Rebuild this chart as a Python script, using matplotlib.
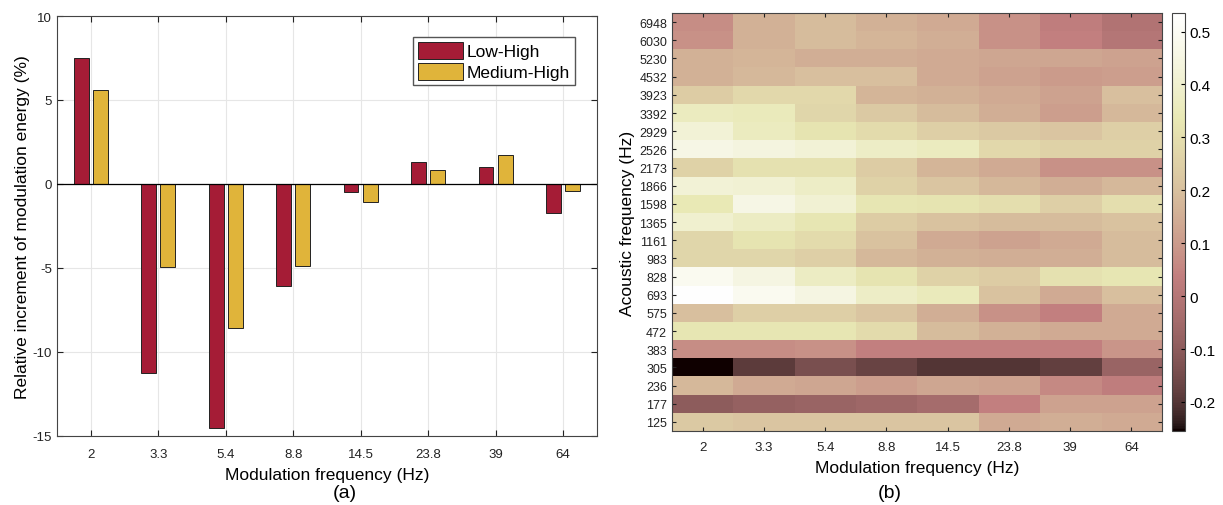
import numpy as np
import matplotlib
matplotlib.use("Agg")
import matplotlib.pyplot as plt
from matplotlib.colors import ListedColormap

plt.rcParams['font.family'] = ['Liberation Sans', 'DejaVu Sans']
plt.rcParams['axes.unicode_minus'] = False

mod_freqs = ['2', '3.3', '5.4', '8.8', '14.5', '23.8', '39', '64']
low_high = [7.5, -11.25, -14.55, -6.05, -0.45, 1.3, 1.0, -1.7]
medium_high = [5.6, -4.95, -8.6, -4.9, -1.05, 0.85, 1.75, -0.4]

acoustic_freqs = ['6948', '6030', '5230', '4532', '3923', '3392', '2929', '2526',
                  '2173', '1866', '1598', '1365', '1161', '983', '828', '693',
                  '575', '472', '383', '305', '236', '177', '125']

# rows top (6948) -> bottom (125), columns follow mod_freqs
heat = np.array([
    [0.07, 0.16, 0.19, 0.16, 0.14, 0.08, 0.03, -0.01],
    [0.08, 0.16, 0.19, 0.17, 0.15, 0.08, 0.04, 0.00],
    [0.16, 0.17, 0.15, 0.15, 0.14, 0.13, 0.13, 0.12],
    [0.16, 0.18, 0.20, 0.20, 0.14, 0.12, 0.10, 0.11],
    [0.24, 0.28, 0.28, 0.17, 0.16, 0.14, 0.12, 0.20],
    [0.36, 0.35, 0.27, 0.23, 0.19, 0.15, 0.11, 0.18],
    [0.42, 0.36, 0.32, 0.29, 0.25, 0.23, 0.22, 0.25],
    [0.46, 0.44, 0.42, 0.38, 0.36, 0.28, 0.26, 0.26],
    [0.26, 0.31, 0.31, 0.24, 0.17, 0.14, 0.08, 0.08],
    [0.42, 0.41, 0.38, 0.26, 0.22, 0.18, 0.15, 0.18],
    [0.34, 0.46, 0.41, 0.33, 0.32, 0.30, 0.25, 0.30],
    [0.40, 0.37, 0.33, 0.24, 0.21, 0.19, 0.19, 0.21],
    [0.27, 0.32, 0.29, 0.21, 0.14, 0.12, 0.14, 0.19],
    [0.27, 0.27, 0.25, 0.18, 0.16, 0.15, 0.15, 0.19],
    [0.49, 0.45, 0.37, 0.32, 0.26, 0.24, 0.31, 0.33],
    [0.53, 0.49, 0.45, 0.38, 0.35, 0.21, 0.14, 0.20],
    [0.20, 0.25, 0.25, 0.22, 0.15, 0.08, 0.04, 0.14],
    [0.33, 0.33, 0.33, 0.29, 0.19, 0.16, 0.14, 0.14],
    [0.07, 0.07, 0.08, 0.04, 0.04, 0.04, 0.04, 0.09],
    [-0.255, -0.19, -0.14, -0.17, -0.20, -0.20, -0.18, -0.07],
    [0.18, 0.14, 0.13, 0.11, 0.13, 0.12, 0.06, 0.03],
    [-0.10, -0.08, -0.07, -0.06, -0.04, 0.04, 0.12, 0.12],
    [0.23, 0.22, 0.22, 0.22, 0.22, 0.14, 0.15, 0.14],
])


# MATLAB-style "pink" colormap
def matlab_pink(m=256):
    g = np.linspace(0, 1, m)
    n = int(3 / 8 * m)
    r = np.r_[np.arange(1, n + 1) / n, np.ones(m - n)]
    gg = np.r_[np.zeros(n), np.arange(1, n + 1) / n, np.ones(m - 2 * n)]
    b = np.r_[np.zeros(2 * n), np.arange(1, m - 2 * n + 1) / (m - 2 * n)]
    hot = np.c_[r, gg, b]
    return ListedColormap(np.sqrt((2 * g[:, None] + hot) / 3))


fig = plt.figure(figsize=(12.23, 5.06), dpi=100)

# (a) bar chart
ax1 = fig.add_axes([0.0466, 0.1364, 0.4415, 0.830])
x = np.arange(1, len(mod_freqs) + 1)
w = 0.22
ax1.bar(x - 0.143, low_high, w, color='#A51C36', edgecolor='#222222', linewidth=0.7,
        label='Low-High', zorder=3)
ax1.bar(x + 0.143, medium_high, w, color='#E0B43A', edgecolor='#222222', linewidth=0.7,
        label='Medium-High', zorder=3)
ax1.axhline(0, color='black', linewidth=0.9, zorder=4)
ax1.set_xlim(0.5, 8.5)
ax1.set_ylim(-15, 10)
ax1.set_yticks([-15, -10, -5, 0, 5, 10])
ax1.set_xticks(x)
ax1.set_xticklabels(mod_freqs)
ax1.grid(True, color='#e6e6e6', linewidth=0.8, zorder=0)
ax1.tick_params(direction='in', top=True, right=True, labelsize=9.5, length=4,
                colors='#222222')
ax1.tick_params(axis='x', pad=9)
for s in ax1.spines.values():
    s.set_color('#444444')
    s.set_linewidth(0.8)
ax1.set_xlabel('Modulation frequency (Hz)', fontsize=12.5, labelpad=5)
ax1.set_ylabel('Relative increment of modulation energy (%)', fontsize=12.5, labelpad=2)
ax1.legend(loc='upper right', bbox_to_anchor=(0.96, 0.95), borderaxespad=0, fontsize=12.5,
           handlelength=2.6, handleheight=1.1, borderpad=0.3, labelspacing=0.2,
           handletextpad=0.2, fancybox=False, framealpha=1, edgecolor='#555555')
fig.text(345 / 1223, 1 - 494 / 506, '(a)', ha='center', va='center', fontsize=14)

# (b) heatmap
ax2 = fig.add_axes([0.5495, 0.1462, 0.4007, 0.826])
im = ax2.imshow(heat, aspect='auto', cmap=matlab_pink(), vmin=-0.255, vmax=0.535,
                interpolation='nearest')
ax2.set_xticks(np.arange(len(mod_freqs)))
ax2.set_xticklabels(mod_freqs)
ax2.set_yticks(np.arange(len(acoustic_freqs)))
ax2.set_yticklabels(acoustic_freqs)
ax2.tick_params(direction='in', top=True, right=True, labelsize=9.5, length=3,
                colors='#222222')
ax2.tick_params(axis='x', pad=7)
ax2.tick_params(axis='y', labelsize=9)
for s in ax2.spines.values():
    s.set_color('#444444')
    s.set_linewidth(0.8)
ax2.set_xlabel('Modulation frequency (Hz)', fontsize=12.5, labelpad=5)
ax2.set_ylabel('Acoustic frequency (Hz)', fontsize=12.5, labelpad=3)
fig.text(890 / 1223, 1 - 494 / 506, '(b)', ha='center', va='center', fontsize=14)

cax = fig.add_axes([0.9583, 0.1462, 0.0105, 0.826])
cb = fig.colorbar(im, cax=cax, ticks=[-0.2, -0.1, 0, 0.1, 0.2, 0.3, 0.4, 0.5])
cb.ax.set_yticklabels(['-0.2', '-0.1', '0', '0.1', '0.2', '0.3', '0.4', '0.5'])
cb.ax.tick_params(direction='in', labelsize=11, length=3)
cb.outline.set_edgecolor('#444444')
cb.outline.set_linewidth(0.8)

fig.savefig('out.png', dpi=100)
